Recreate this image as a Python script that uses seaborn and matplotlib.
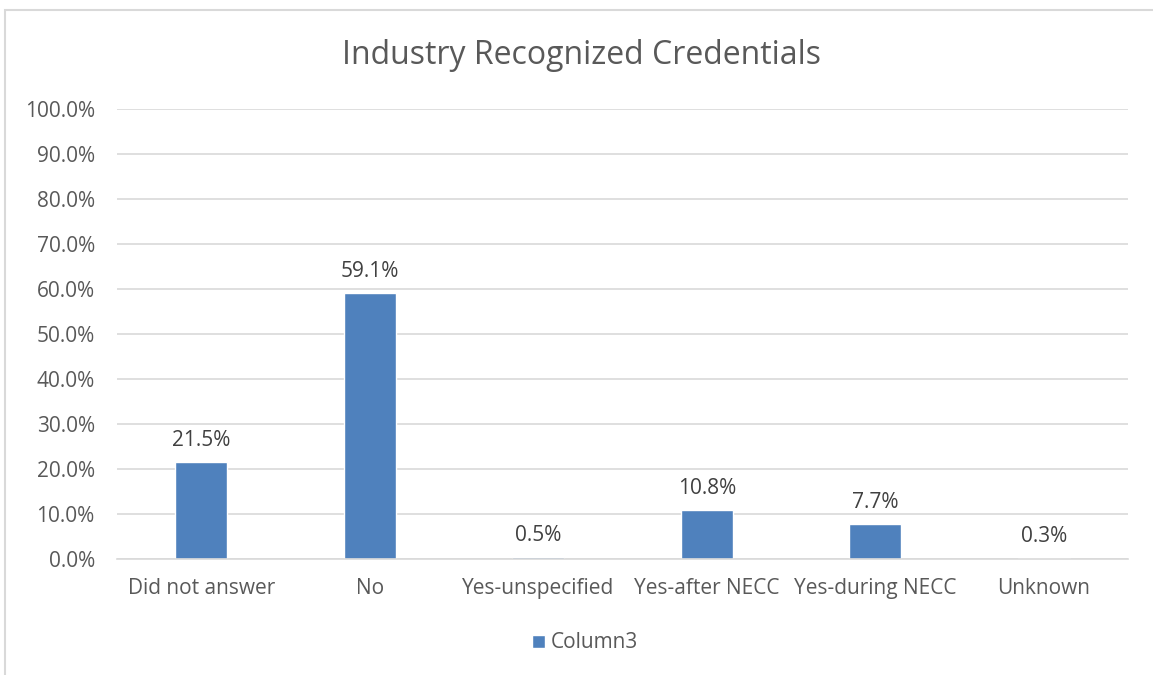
import matplotlib
matplotlib.use("Agg")
import matplotlib.pyplot as plt
import seaborn as sns
from matplotlib.patches import Rectangle
from matplotlib.ticker import FuncFormatter

# data
categories = ["Did not answer", "No", "Yes-unspecified", "Yes-after NECC",
              "Yes-during NECC", "Unknown"]
values = [21.5, 59.1, 0.5, 10.8, 7.7, 0.3]
series_name = "Column3"

sns.set_style("white")
plt.rcParams["font.family"] = ["Open Sans", "DejaVu Sans"]

text_col = "#595959"
bar_col = "#4f81bd"

fig = plt.figure(figsize=(11.53, 6.75), dpi=100)
ax = fig.add_axes([117 / 1153, 1 - 559 / 675, (1128 - 117) / 1153, (559 - 109) / 675])

sns.barplot(x=categories, y=values, color=bar_col, width=0.31,
            label=series_name, ax=ax, saturation=1)

ax.set_ylim(0, 100)
ax.set_yticks(range(0, 101, 10))
ax.yaxis.set_major_formatter(FuncFormatter(lambda v, p: f"{v:.1f}%"))
ax.grid(axis="y", color="#d9d9d9", linewidth=1.2)
ax.set_axisbelow(True)
for s in ["top", "right", "left"]:
    ax.spines[s].set_visible(False)
ax.spines["bottom"].set_color("#d9d9d9")
ax.spines["bottom"].set_linewidth(1.2)
ax.tick_params(axis="both", length=0, colors=text_col, labelsize=15)
ax.tick_params(axis="y", pad=16)
ax.tick_params(axis="x", pad=14)
ax.set_xlabel("")
ax.set_ylabel("")

ax.bar_label(ax.containers[0], labels=[f"{v:.1f}%" for v in values],
             padding=8, fontsize=15, color="#404040")

# title and legend are centred on the whole chart area, not the plot area
fig.text(581 / 1153, 1 - 55 / 675, "Industry Recognized Credentials",
         fontsize=23, color=text_col, ha="center", va="center")

ax.legend(loc="center", bbox_to_anchor=(585 / 1153, 1 - 643 / 675),
          bbox_transform=fig.transFigure, frameon=False,
          fontsize=15, handlelength=0.6, handleheight=0.6, handletextpad=0.3,
          labelcolor=text_col)

fig.add_artist(Rectangle((5 / 1153, -0.01), 1.0, 1 - 10 / 675 + 0.01,
                         transform=fig.transFigure, fill=False,
                         edgecolor="#d9d9d9", linewidth=1.5))

fig.savefig("out.png", dpi=100)
